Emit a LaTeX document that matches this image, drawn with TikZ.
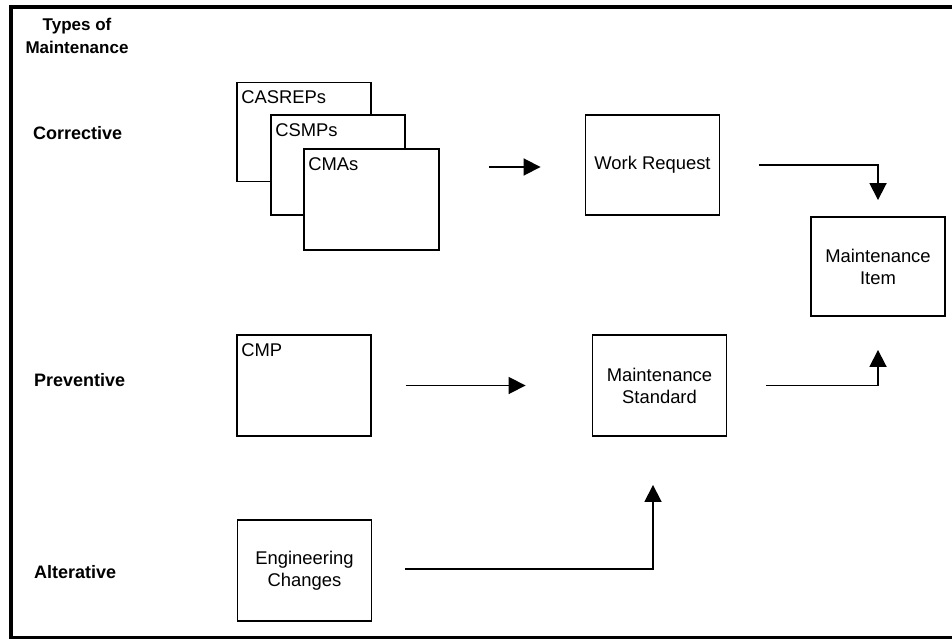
\documentclass[tikz,border=0pt]{standalone}
\usepackage{fontspec}
\setmainfont{Liberation Sans}
\usetikzlibrary{arrows.meta,calc}
\begin{document}
\begin{tikzpicture}[x=1pt,y=-1pt,
  box/.style={draw, line width=1.9pt, fill=white, inner sep=0pt,
    minimum width=134pt, minimum height=100pt,
    font=\fontsize{18.4}{22}\selectfont, align=center},
  tl/.style={anchor=west, xshift=3pt, yshift=-16pt, inner sep=2pt,
    font=\fontsize{18.4}{22}\selectfont},
  cat/.style={anchor=west, inner sep=0pt, font=\fontsize{18}{22}\selectfont\bfseries},
  conn/.style={line width=1.8pt, -{Triangle[length=17pt,width=17pt]}},
  frame/.style={line width=4pt}
]
\useasboundingbox (0,0) rectangle (952,639);
% frame
\coordinate (ftr) at (952,7);
\coordinate (ftl) at (11,7);
\coordinate (fbl) at (11,637.5);
\coordinate (fbr) at (952,637.5);
\draw[frame] (ftr) -- (ftl) -- (fbl) -- (fbr);

% category labels
\node[font=\fontsize{17}{23}\selectfont\bfseries, align=center, inner sep=0pt] (types) at (77,36) {Types of\\Maintenance};
\node[cat] (corr) at (33,133) {Corrective};
\node[cat] (prev) at (34,380) {Preventive};
\node[cat] (alt)  at (34,572) {Alterative};

% corrective sources
\node[box, minimum height=99pt, label={[tl]north west:CASREPs}] (casreps) at (304,132) {};
\node[box, label={[tl]north west:CSMPs}] (csmps) at (338,165) {};
\node[box, minimum width=135pt, minimum height=101pt, label={[tl]north west:CMAs}] (cmas) at (371.5,199.5) {};

\node[box] (wr) at (652.5,165) {Work Request};
\node[box, minimum height=99pt] (mi) at (878,266.5) {Maintenance\\Item};

\node[box, minimum height=101pt, label={[tl]north west:CMP}] (cmp) at (304,385.5) {};
\node[box, minimum height=101pt] (ms) at (659.5,385.5) {Maintenance\\Standard};

\node[box, minimum height=101pt] (ec) at (304.5,570.5) {Engineering\\Changes};

% connectors
\draw[conn] ($(cmas.east |- wr.west)+(49,2)$) -- ($(wr.west)+(-44,2)$);
\draw[conn, shorten >=16pt] ($(wr.east)+(39,0)$) -| (mi.north);
\draw[conn] ($(cmp.east |- ms.west)+(34,0)$) -- ($(ms.west)+(-66,0)$);
\draw[conn, shorten >=33pt] ($(ms.east)+(39,0)$) -| (mi.south);
\coordinate (ecup) at ($(ms.south)+(-6.5,0)$);
\draw[conn, shorten >=48pt] ($(ec.east)+(33,-1.5)$) -| (ecup);
\end{tikzpicture}
\end{document}
